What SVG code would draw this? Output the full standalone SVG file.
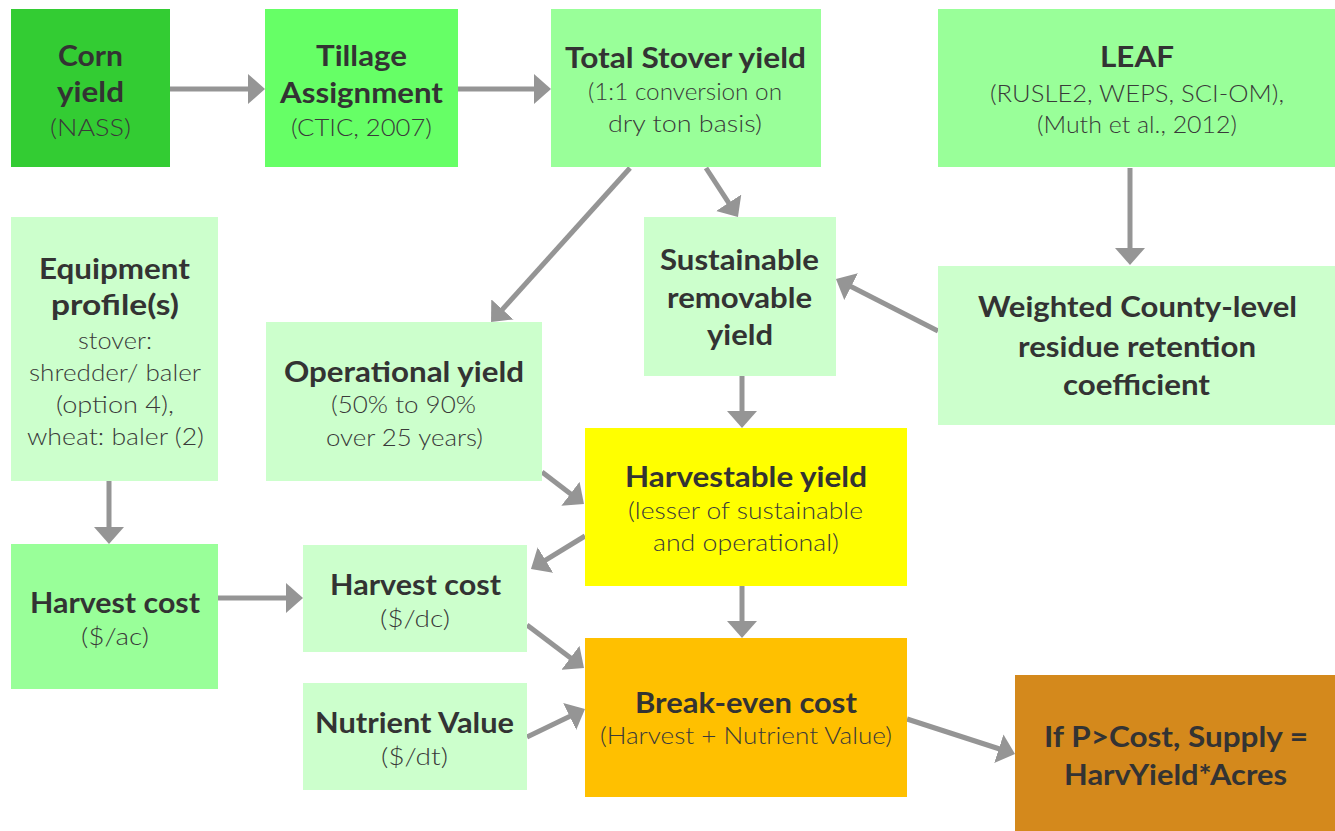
<svg xmlns="http://www.w3.org/2000/svg" width="1335" height="831" viewBox="0 0 1335 831">
<style>
.t{font-family:Lato,"Open Sans","Liberation Sans",sans-serif;font-weight:700;font-size:28px;fill:#333333;text-anchor:middle}
.s{font-family:Lato,"Open Sans","Liberation Sans",sans-serif;font-weight:300;font-size:23px;fill:#3a3a3a;text-anchor:middle}
.c{stroke:#959595;stroke-width:5;fill:none;marker-end:url(#ah)}
</style>
<defs>
<marker id="ah" viewBox="0 0 17 30" refX="9" refY="15" markerWidth="17" markerHeight="30" markerUnits="userSpaceOnUse" orient="auto">
<path d="M0,0 L17,15 L0,30 Z" fill="#959595"/>
</marker>
</defs>
<rect width="1335" height="831" fill="#ffffff"/>
<g id="connectors">
<line class="c" x1="170" y1="89" x2="257" y2="89"/>
<line class="c" x1="458" y1="89" x2="543" y2="89"/>
<line class="c" x1="706" y1="168" x2="733.6" y2="210.3"/>
<line class="c" x1="630" y1="168" x2="496.4" y2="316.1"/>
<line class="c" x1="1130" y1="168" x2="1130" y2="257"/>
<line class="c" x1="938" y1="331" x2="843.1" y2="282.6"/>
<line class="c" x1="742" y1="376" x2="742" y2="420"/>
<line class="c" x1="542" y1="472" x2="577.6" y2="499.2"/>
<line class="c" x1="585" y1="536" x2="537.8" y2="564.8"/>
<line class="c" x1="218" y1="598" x2="295" y2="598"/>
<line class="c" x1="109" y1="481" x2="109" y2="536"/>
<line class="c" x1="742" y1="586" x2="742" y2="630"/>
<line class="c" x1="527" y1="625" x2="577.6" y2="663.2"/>
<line class="c" x1="527" y1="737" x2="577.8" y2="712.5"/>
<line class="c" x1="907" y1="719" x2="1007.4" y2="751.5"/>
</g>
<g id="corn-yield">
<rect x="11" y="9" width="159" height="158" fill="#33CC33"/>
<text class="t" x="90.5" y="66" textLength="65" lengthAdjust="spacingAndGlyphs">Corn</text>
<text class="t" x="90.5" y="102" textLength="67" lengthAdjust="spacingAndGlyphs">yield</text>
<text class="s" x="90.5" y="136" textLength="81" lengthAdjust="spacingAndGlyphs">(NASS)</text>
</g>
<g id="tillage">
<rect x="265" y="9" width="193" height="158" fill="#66FF66"/>
<text class="t" x="361.5" y="66" textLength="91" lengthAdjust="spacingAndGlyphs">Tillage</text>
<text class="t" x="361.5" y="103" textLength="163" lengthAdjust="spacingAndGlyphs">Assignment</text>
<text class="s" x="361.5" y="136" textLength="141" lengthAdjust="spacingAndGlyphs">(CTIC, 2007)</text>
</g>
<g id="total-stover">
<rect x="551" y="9" width="270" height="158" fill="#99FF99"/>
<text class="t" x="685.5" y="68" textLength="241" lengthAdjust="spacingAndGlyphs">Total Stover yield</text>
<text class="s" x="685" y="100" textLength="194" lengthAdjust="spacingAndGlyphs">(1:1 conversion on</text>
<text class="s" x="685" y="132" textLength="154" lengthAdjust="spacingAndGlyphs">dry ton basis)</text>
</g>
<g id="leaf">
<rect x="938" y="9" width="397" height="158" fill="#99FF99"/>
<text class="t" x="1137" y="67" textLength="74" lengthAdjust="spacingAndGlyphs">LEAF</text>
<text class="s" x="1137" y="102" textLength="294" lengthAdjust="spacingAndGlyphs">(RUSLE2, WEPS, SCI-OM),</text>
<text class="s" x="1137" y="133" textLength="200" lengthAdjust="spacingAndGlyphs">(Muth et al., 2012)</text>
</g>
<g id="sustainable">
<rect x="644" y="217" width="192" height="159" fill="#CCFFCC"/>
<text class="t" x="739.5" y="270" textLength="159" lengthAdjust="spacingAndGlyphs">Sustainable</text>
<text class="t" x="739.5" y="308" textLength="145" lengthAdjust="spacingAndGlyphs">removable</text>
<text class="t" x="740" y="345" textLength="66" lengthAdjust="spacingAndGlyphs">yield</text>
</g>
<g id="weighted">
<rect x="938" y="266" width="397" height="159" fill="#CCFFCC"/>
<text class="t" x="1137.5" y="317" textLength="319" lengthAdjust="spacingAndGlyphs">Weighted County-level</text>
<text class="t" x="1137" y="357" textLength="238" lengthAdjust="spacingAndGlyphs">residue retention</text>
<text class="t" x="1136.5" y="395" textLength="147" lengthAdjust="spacingAndGlyphs">coefficient</text>
</g>
<g id="equipment">
<rect x="11" y="217" width="207" height="264" fill="#CCFFCC"/>
<text class="t" x="114.5" y="279" textLength="151" lengthAdjust="spacingAndGlyphs">Equipment</text>
<text class="t" x="115" y="315" textLength="128" lengthAdjust="spacingAndGlyphs">profile(s)</text>
<text class="s" x="115" y="349" textLength="74" lengthAdjust="spacingAndGlyphs">stover:</text>
<text class="s" x="115" y="381" textLength="172" lengthAdjust="spacingAndGlyphs">shredder/ baler</text>
<text class="s" x="115" y="413" textLength="118" lengthAdjust="spacingAndGlyphs">(option 4),</text>
<text class="s" x="115.5" y="445" textLength="177" lengthAdjust="spacingAndGlyphs">wheat: baler (2)</text>
</g>
<g id="operational">
<rect x="266" y="322" width="276" height="159" fill="#CCFFCC"/>
<text class="t" x="404" y="382" textLength="240" lengthAdjust="spacingAndGlyphs">Operational yield</text>
<text class="s" x="403.5" y="413" textLength="145" lengthAdjust="spacingAndGlyphs">(50% to 90%</text>
<text class="s" x="404.5" y="446" textLength="157" lengthAdjust="spacingAndGlyphs">over 25 years)</text>
</g>
<g id="harvestable">
<rect x="585" y="428" width="322" height="158" fill="#FFFF00"/>
<text class="t" x="746" y="487" textLength="242" lengthAdjust="spacingAndGlyphs">Harvestable yield</text>
<text class="s" x="745.5" y="519" textLength="235" lengthAdjust="spacingAndGlyphs">(lesser of sustainable</text>
<text class="s" x="746" y="551" textLength="186" lengthAdjust="spacingAndGlyphs">and operational)</text>
</g>
<g id="harvest-cost-ac">
<rect x="11" y="544" width="207" height="145" fill="#99FF99"/>
<text class="t" x="115" y="613" textLength="170" lengthAdjust="spacingAndGlyphs">Harvest cost</text>
<text class="s" x="115" y="645" textLength="68" lengthAdjust="spacingAndGlyphs">($/ac)</text>
</g>
<g id="harvest-cost-dc">
<rect x="303" y="545" width="224" height="107" fill="#CCFFCC"/>
<text class="t" x="415.5" y="595" textLength="171" lengthAdjust="spacingAndGlyphs">Harvest cost</text>
<text class="s" x="415" y="627" textLength="70" lengthAdjust="spacingAndGlyphs">($/dc)</text>
</g>
<g id="nutrient-value">
<rect x="303" y="683" width="224" height="107" fill="#CCFFCC"/>
<text class="t" x="414.5" y="733" textLength="199" lengthAdjust="spacingAndGlyphs">Nutrient Value</text>
<text class="s" x="414.5" y="765" textLength="67" lengthAdjust="spacingAndGlyphs">($/dt)</text>
</g>
<g id="break-even">
<rect x="585" y="638" width="322" height="159" fill="#FFC000"/>
<text class="t" x="746" y="713" textLength="222" lengthAdjust="spacingAndGlyphs">Break-even cost</text>
<text class="s" x="746" y="744" textLength="292" lengthAdjust="spacingAndGlyphs">(Harvest + Nutrient Value)</text>
</g>
<g id="supply">
<rect x="1015" y="675" width="320" height="156" fill="#D4891C"/>
<text class="t" x="1176" y="747" textLength="264" lengthAdjust="spacingAndGlyphs">If P&gt;Cost, Supply =</text>
<text class="t" x="1175.5" y="785" textLength="223" lengthAdjust="spacingAndGlyphs">HarvYield*Acres</text>
</g>
</svg>
